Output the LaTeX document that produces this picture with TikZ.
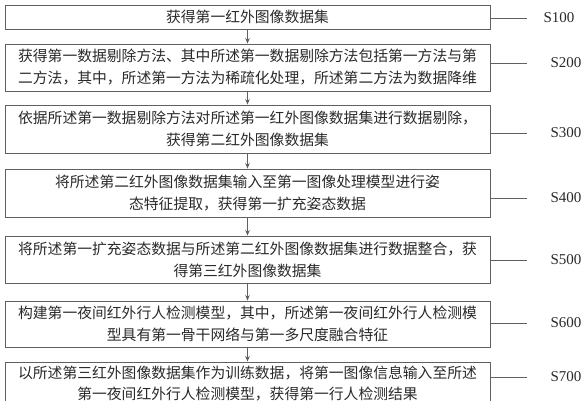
\documentclass[tikz,border=0pt]{standalone}
\usepackage{fontspec}
\setmainfont{Liberation Serif}
\newfontfamily\cjk{Noto Sans CJK SC}
\usetikzlibrary{arrows.meta}
\definecolor{ink}{HTML}{2A2A2A}
\definecolor{edge}{HTML}{606060}
\tikzset{
  stepbox/.style={draw=edge, line width=0.9pt, rectangle, inner sep=0pt,
    minimum width=485pt, text=ink, align=center,
    font=\cjk\fontsize{14.8}{22}\selectfont},
  flow/.style={draw=edge, line width=0.8pt, -{Stealth[length=5.5pt,width=4.5pt]}},
  tick/.style={draw=edge, line width=0.8pt},
  steplabel/.style={text=ink, inner sep=0pt, font=\fontsize{15}{18}\selectfont}
}
\begin{document}
\begin{tikzpicture}[x=1pt,y=-1pt]
\useasboundingbox (0,0) rectangle (586,400);
\clip (0,0) rectangle (586,400);
\fill[white] (0,0) rectangle (586,400);

\node[stepbox, minimum height=24pt] (b1) at (247.5,17) {获得第一红外图像数据集};
\node[stepbox, minimum height=47pt] (b2) at (247.5,67.5) {获得第一数据剔除方法、其中所述第一数据剔除方法包括第一方法与第\\二方法，其中，所述第一方法为稀疏化处理，所述第二方法为数据降维};
\node[stepbox, minimum height=48pt] (b3) at (247.5,129) {依据所述第一数据剔除方法对所述第一红外图像数据集进行数据剔除，\\获得第二红外图像数据集};
\node[stepbox, minimum height=48pt] (b4) at (247.5,193) {将所述第二红外图像数据集输入至第一图像处理模型进行姿\\态特征提取，获得第一扩充姿态数据};
\node[stepbox, minimum height=47pt] (b5) at (247.5,259.5) {将所述第一扩充姿态数据与所述第二红外图像数据集进行数据整合，获\\得第三红外图像数据集};
\node[stepbox, minimum height=46pt] (b6) at (247.5,324) {构建第一夜间红外行人检测模型，其中，所述第一夜间红外行人检测模\\型具有第一骨干网络与第一多尺度融合特征};
\node[stepbox, minimum height=42pt, font=\cjk\fontsize{14.8}{21}\selectfont] (b7) at (247.5,383) {以所述第三红外图像数据集作为训练数据，将第一图像信息输入至所述\\第一夜间红外行人检测模型，获得第一行人检测结果};

\foreach \a/\b in {b1/b2,b2/b3,b3/b4,b4/b5,b5/b6,b6/b7}
  \draw[flow] (\a.south) -- (\b.north);

\coordinate (t1) at (527,18);
\coordinate (t2) at (527,63);
\coordinate (t3) at (527,133);
\coordinate (t4) at (527,198);
\coordinate (t5) at (527,260);
\coordinate (t6) at (527,323);
\coordinate (t7) at (527,377);
\foreach \i in {1,...,7}
  \draw[tick] (b\i.east |- t\i) -- (t\i);

\node[steplabel] (s1) at (559,18) {S100};
\node[steplabel] (s2) at (566,63) {S200};
\node[steplabel] (s3) at (566,133) {S300};
\node[steplabel] (s4) at (566,198) {S400};
\node[steplabel] (s5) at (566,260) {S500};
\node[steplabel] (s6) at (566,323) {S600};
\node[steplabel] (s7) at (566,377) {S700};
\end{tikzpicture}
\end{document}
